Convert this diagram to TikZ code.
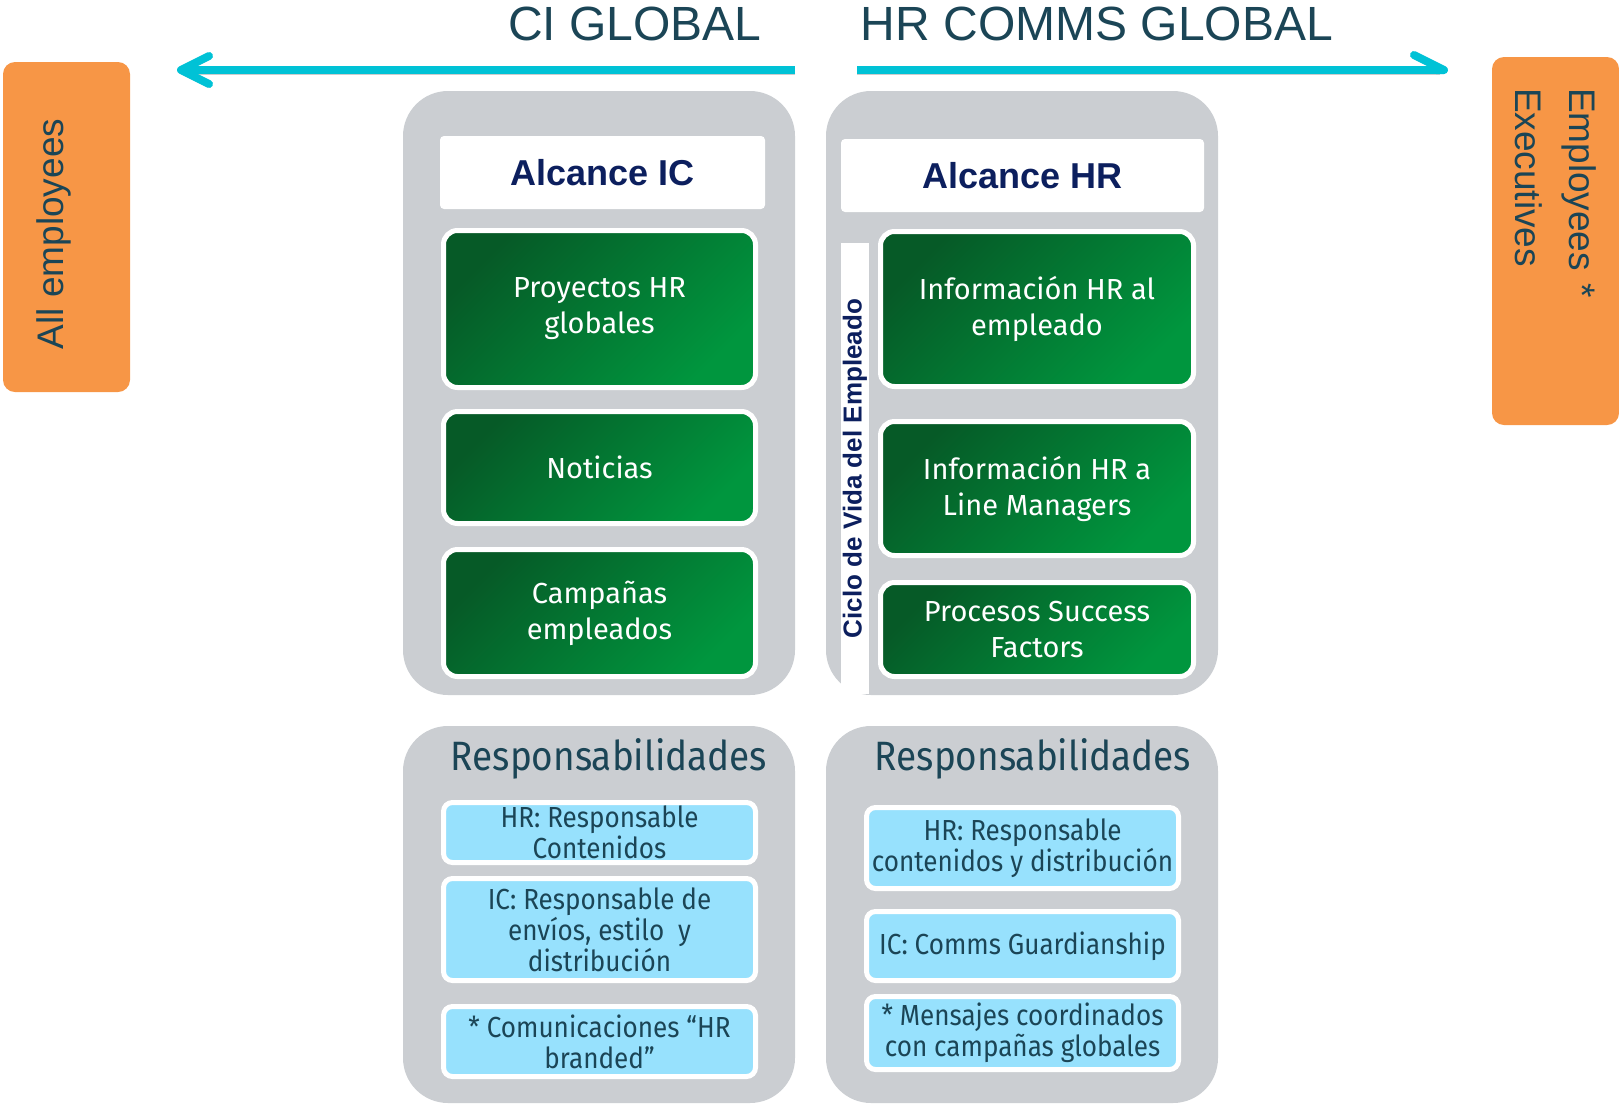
\documentclass[tikz,border=0pt]{standalone}
\usepackage{fontspec}
\setmainfont{Liberation Sans}
\newfontfamily\txtfont{Fira Sans}
\newfontfamily\cndfont[FakeStretch=0.9]{Fira Sans}
\usetikzlibrary{arrows.meta}

\definecolor{ciorange}{HTML}{F79646}
\definecolor{cipanel}{HTML}{CBCED2}
\definecolor{ciarrow}{HTML}{00C2D6}
\definecolor{cisky}{HTML}{97E1FD}
\definecolor{cigreenD}{HTML}{065A27}
\definecolor{cigreenL}{HTML}{00963E}
\definecolor{cinavy}{HTML}{0C1F5E}
\definecolor{citeal}{HTML}{1B4556}

\tikzset{
  title/.style={text=citeal, font=\fontsize{48}{56}\selectfont, inner sep=0pt},
  tag/.style={fill=ciorange, rounded corners=12pt, text=citeal,
    font=\fontsize{37}{54}\selectfont},
  panel/.style={fill=cipanel, rounded corners=45pt, minimum width=392pt},
  head/.style={fill=white, rounded corners=4pt, text=cinavy,
    font=\bfseries\fontsize{36}{42}\selectfont},
  greenbox/.style={draw=white, line width=5pt, rounded corners=14pt,
    top color=cigreenD, bottom color=cigreenL, shading angle=45,
    text=white, align=center, font=\txtfont\fontsize{29}{36}\selectfont},
  skybox/.style={draw=white, line width=5pt, rounded corners=9pt, fill=cisky,
    text=citeal, align=center, font=\cndfont\fontsize{29}{31}\selectfont},
  resp/.style={text=citeal, font=\cndfont\fontsize{41}{48}\selectfont},
  flow/.style={ciarrow, line width=8pt,
    preaction={draw=black!20, transform canvas={yshift=-4pt}}}
}

\begin{document}
\begin{tikzpicture}[x=1pt, y=-1pt]
    \useasboundingbox (0,0) rectangle (1619,1104);

    % Titulos y flechas
    \node[title] (ci) at (635,24) {CI GLOBAL};
    \node[title] (hr) at (1097,24) {HR COMMS GLOBAL};
    \coordinate (ciStart) at (795,70);
    \coordinate (ciEnd) at (177,70);
    \coordinate (hrStart) at (857,70);
    \coordinate (hrEnd) at (1448,70);
    \draw[flow, -{Straight Barb[length=28pt, width=28pt, round]}] (ciStart) -- (ciEnd);
    \draw[flow, -{Straight Barb[harpoon, length=30pt, width=30pt, round]}] (hrStart) -- (hrEnd);

    % Publico
    \node[tag, minimum width=127pt, minimum height=330pt] (all) at (66.5,227) {};
    \node[text=citeal, rotate=90, font=\fontsize{37}{54}\selectfont] (allT) at (54,234) {All employees};
    \node[tag, rotate=-90, inner xsep=31pt, text width=306pt, minimum height=127pt, align=left]
        (exe) at (1555.5,241) {Employees *\\Executives};

    % Paneles grises
    \node[panel, minimum height=604pt] (pIC) at (599,393) {};
    \node[panel, minimum height=604pt] (pHR) at (1022,393) {};
    \node[panel, minimum height=377pt] (rIC) at (599,914.5) {};
    \node[panel, minimum height=377pt] (rHR) at (1022,914.5) {};

    % Alcance IC
    \node[head, minimum width=325pt, minimum height=73pt] (alcIC) at (602.5,172.5) {Alcance IC};
    \node[greenbox, minimum width=312pt, minimum height=157pt] (proy) at (599.5,309) {Proyectos HR\\globales};
    \node[greenbox, minimum width=312pt, minimum height=112pt] (noti) at (599.5,467.5) {Noticias};
    \node[greenbox, minimum width=312pt, minimum height=127pt] (camp) at (599.5,613) {Campañas\\empleados};

    % Alcance HR
    \node[head, minimum width=363pt, minimum height=73pt] (alcHR) at (1022.5,175.5) {Alcance HR};
    \node[fill=white, rotate=90, inner sep=0pt, minimum width=451pt, minimum height=28pt,
        text=cinavy, font=\bfseries\fontsize{26}{30}\selectfont] (ciclo) at (855,468.5) {Ciclo de Vida del Empleado};
    \node[greenbox, minimum width=313pt, minimum height=155pt] (infE) at (1037,309) {Información HR al\\empleado};
    \node[greenbox, minimum width=313pt, minimum height=134pt] (infL) at (1037,488.5) {Información HR a\\Line Managers};
    \node[greenbox, minimum width=313pt, minimum height=94pt] (sf) at (1037,629.5) {Procesos Success\\Factors};

    % Responsabilidades
    \node[resp] (respIC) at (609,759) {Responsabilidades};
    \node[skybox, minimum width=312pt, minimum height=60pt] (b1) at (599.5,832.5) {HR: Responsable\\Contenidos};
    \node[skybox, minimum width=312pt, minimum height=102pt] (b2) at (599.5,929.5) {IC: Responsable de\\envíos, estilo~ y\\distribución};
    \node[skybox, minimum width=312pt, minimum height=70pt] (b3) at (599.5,1041.5) {* Comunicaciones “HR\\branded”};
    \node[resp] (respHR) at (1033,759) {Responsabilidades};
    \node[skybox, minimum width=312pt, minimum height=81pt] (c1) at (1022.5,848) {HR: Responsable\\contenidos y distribución};
    \node[skybox, minimum width=312pt, minimum height=69pt] (c2) at (1022.5,946) {IC: Comms Guardianship};
    \node[skybox, minimum width=312pt, minimum height=73pt] (c3) at (1022.5,1033) {* Mensajes coordinados\\con campañas globales};
\end{tikzpicture}
\end{document}
